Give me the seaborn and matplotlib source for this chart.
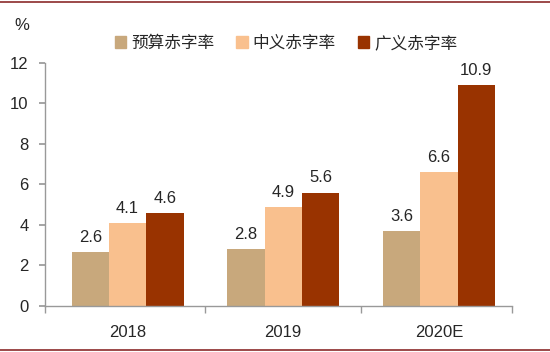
import pandas as pd
import matplotlib.pyplot as plt
import seaborn as sns
from matplotlib.lines import Line2D
from matplotlib.ticker import FixedLocator

sns.set_theme(style="white")
plt.rcParams['font.family'] = ['Noto Sans CJK SC', 'DejaVu Sans']

# Data
years = ['2018', '2019', '2020E']
series = ['预算赤字率', '中义赤字率', '广义赤字率']
budget = [2.6, 2.8, 3.6]
middle = [4.1, 4.9, 6.6]
broad = [4.6, 5.6, 10.9]
bar_heights = [2.65, 2.8, 3.7]  # 2020E budget bar drawn slightly above label
colors = ['#C8A87C', '#F9C08E', '#993300']

df = pd.DataFrame({
    'year': years * 3,
    'series': [s for s in series for _ in years],
    'value': bar_heights + middle + broad,
})
labels = budget + middle + broad

fig = plt.figure(figsize=(5.5, 3.52), dpi=100)
ax = fig.add_axes([0.082, 0.131, 0.849, 0.69])

sns.barplot(data=df, x='year', y='value', hue='series', palette=colors,
            width=0.72, saturation=1, linewidth=0, ax=ax, legend=False)

# value labels
for patch, lab in zip(ax.patches, labels):
    ax.text(patch.get_x() + patch.get_width() / 2, patch.get_height() + 0.35,
            f'{lab:.1f}', ha='center', va='bottom', fontsize=12,
            family=['Liberation Sans', 'DejaVu Sans'])

ax.set_ylim(0, 12)
ax.set_xlim(-0.53, 2.47)
ax.set_yticks(range(0, 13, 2))
ax.set_xlabel('')
ax.set_ylabel('')

for sp in ['top', 'right']:
    ax.spines[sp].set_visible(False)
for sp in ['left', 'bottom']:
    ax.spines[sp].set_color('#999999')
    ax.spines[sp].set_linewidth(1)

ax.tick_params(axis='y', left=True, length=4, color='#999999', labelsize=12, pad=8)
ax.tick_params(axis='x', bottom=False, labelsize=12, pad=8)
ax.xaxis.set_minor_locator(FixedLocator([-0.53, 0.5, 1.5, 2.47]))
ax.tick_params(axis='x', which='minor', bottom=True, length=5, color='#999999')
for t in ax.get_xticklabels() + ax.get_yticklabels():
    t.set_family(['Liberation Sans', 'DejaVu Sans'])

# legend
handles = [plt.Rectangle((0, 0), 1, 1, color=c) for c in colors]
fig.legend(handles, series, loc='center', bbox_to_anchor=(0.52, 0.877), ncol=3,
           frameon=False, fontsize=12, handlelength=0.7, handleheight=0.7,
           handletextpad=0.3, columnspacing=1.3)

fig.text(0.027, 0.915, '%', fontsize=12, family=['Liberation Sans', 'DejaVu Sans'])

# decorative lines at top and bottom
fig.add_artist(Line2D([0, 1], [0.994, 0.994], color='#8B2A2A', lw=1.2))
fig.add_artist(Line2D([0, 1], [0.006, 0.006], color='#8B2A2A', lw=1.2))

fig.savefig('out.png', dpi=100)
